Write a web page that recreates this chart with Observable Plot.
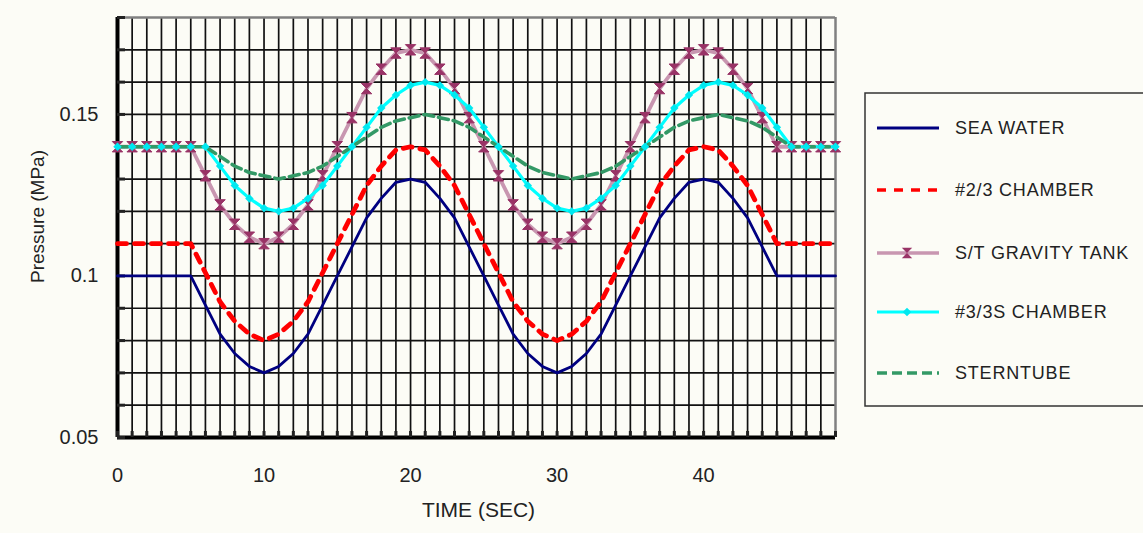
<!DOCTYPE html>
<html>
<head>
<meta charset="utf-8">
<script src="https://cdn.jsdelivr.net/npm/d3@7"></script>
<script src="https://cdn.jsdelivr.net/npm/@observablehq/plot@0.6"></script>
<style>
  html, body { margin: 0; padding: 0; background: #fcfcf6; }
  #wrap { position: relative; width: 1143px; height: 533px; overflow: hidden; }
</style>
</head>
<body>
<div id="wrap"></div>
<script>
// ---- data ----
const time = [0,1,2,3,4,5,6,7,8,9,10,11,12,13,14,15,16,17,18,19,20,21,22,23,24,25,26,27,28,29,30,31,32,33,34,35,36,37,38,39,40,41,42,43,44,45,46,47,48,49];

const seaWater = [0.1,0.1,0.1,0.1,0.1,0.1,
  0.091,0.082,0.076,0.072,0.07,0.072,0.076,0.082,0.091,
  0.1,0.109,0.118,0.124,0.129,0.13,0.129,0.124,0.118,0.109,
  0.1,0.091,0.082,0.076,0.072,0.07,0.072,0.076,0.082,0.091,
  0.1,0.109,0.118,0.124,0.129,0.13,0.129,0.124,0.118,0.109,
  0.1,0.1,0.1,0.1,0.1];

const chamber23 = [0.11,0.11,0.11,0.11,0.11,0.11,
  0.101,0.092,0.086,0.082,0.08,0.082,0.086,0.092,0.101,
  0.11,0.119,0.128,0.134,0.139,0.14,0.139,0.134,0.128,0.119,
  0.11,0.101,0.092,0.086,0.082,0.08,0.082,0.086,0.092,0.101,
  0.11,0.119,0.128,0.134,0.139,0.14,0.139,0.134,0.128,0.119,
  0.11,0.11,0.11,0.11,0.11];

const gravityTank = [0.14,0.14,0.14,0.14,0.14,0.14,
  0.131,0.122,0.116,0.112,0.11,0.112,0.116,0.122,0.131,
  0.14,0.149,0.158,0.164,0.169,0.17,0.169,0.164,0.158,0.149,
  0.14,0.131,0.122,0.116,0.112,0.11,0.112,0.116,0.122,0.131,
  0.14,0.149,0.158,0.164,0.169,0.17,0.169,0.164,0.158,0.149,
  0.14,0.14,0.14,0.14,0.14];

const chamber3S = [0.14,0.14,0.14,0.14,0.14,0.14,0.14,
  0.134,0.128,0.124,0.121,0.12,0.121,0.124,0.128,0.134,
  0.14,0.146,0.152,0.156,0.159,0.16,0.159,0.156,0.152,0.146,
  0.14,0.134,0.128,0.124,0.121,0.12,0.121,0.124,0.128,0.134,
  0.14,0.146,0.152,0.156,0.159,0.16,0.159,0.156,0.152,0.146,
  0.14,0.14,0.14,0.14];

const sterntube = [0.14,0.14,0.14,0.14,0.14,0.14,0.14,
  0.137,0.134,0.132,0.131,0.13,0.131,0.132,0.134,0.137,
  0.14,0.143,0.146,0.148,0.149,0.15,0.149,0.148,0.146,0.143,
  0.14,0.137,0.134,0.132,0.131,0.13,0.131,0.132,0.134,0.137,
  0.14,0.143,0.146,0.148,0.149,0.15,0.149,0.148,0.146,0.143,
  0.14,0.14,0.14,0.14];

const seriesNames = ["SEA WATER", "#2/3 CHAMBER", "S/T GRAVITY TANK", "#3/3S CHAMBER", "STERNTUBE"];

const xTickLabels = [0, 10, 20, 30, 40];
const yTickLabels = [0.05, 0.1, 0.15];
const xMinorTicks = [0,1,2,3,4,5,6,7,8,9,10,11,12,13,14,15,16,17,18,19,20,21,22,23,24,25,26,27,28,29,30,31,32,33,34,35,36,37,38,39,40,41,42,43,44,45,46,47,48,49];
const yMinorTicks = [0.05,0.06,0.07,0.08,0.09,0.1,0.11,0.12,0.13,0.14,0.15,0.16,0.17,0.18];
const xTitle = "TIME (SEC)";
const yTitle = "Pressure (MPa)";

// ---- styles ----
const hourglass = {
  draw(ctx, size) {
    const s = Math.sqrt(size / Math.PI);
    ctx.moveTo(-s, -s);
    ctx.lineTo(s, -s);
    ctx.lineTo(-s, s);
    ctx.lineTo(s, s);
    ctx.closePath();
  }
};

const styles = {
  "SEA WATER":        {stroke: "#000080", strokeWidth: 2.8},
  "#2/3 CHAMBER":     {stroke: "#ff0000", strokeWidth: 4.8, strokeDasharray: "9,8"},
  "S/T GRAVITY TANK": {stroke: "#c896b0", strokeWidth: 3.8, marker: {symbol: hourglass, r: 5.2, fill: "#993366", stroke: "#993366"}},
  "#3/3S CHAMBER":    {stroke: "#00ffff", strokeWidth: 3.2, marker: {symbol: "diamond2", r: 3.8, fill: "#00e8f0", stroke: "none"}},
  "STERNTUBE":        {stroke: "#339966", strokeWidth: 3.6, strokeDasharray: "10,5"}
};

const valuesBySeries = [seaWater, chamber23, gravityTank, chamber3S, sterntube];
const rowsOf = (vals) => time.map((t, i) => ({t, v: vals[i]}));
const rows = Object.fromEntries(seriesNames.map((n, i) => [n, rowsOf(valuesBySeries[i])]));

const lineMark = (name) => {
  const s = styles[name];
  return Plot.line(rows[name], {x: "t", y: "v", stroke: s.stroke, strokeWidth: s.strokeWidth,
    strokeDasharray: s.strokeDasharray, strokeLinejoin: "round", curve: "linear"});
};
const dotMark = (name) => {
  const m = styles[name].marker;
  return Plot.dot(rows[name], {x: "t", y: "v", symbol: m.symbol, r: m.r, fill: m.fill, stroke: m.stroke, strokeWidth: 1});
};

const chart = Plot.plot({
  width: 1143,
  height: 533,
  marginLeft: 117,
  marginRight: 308,
  marginTop: 17,
  marginBottom: 96,
  x: {domain: [0, 49]},
  y: {domain: [0.05, 0.18]},
  style: {fontFamily: "'Liberation Sans', Arial, sans-serif", fontSize: "20px", color: "#222", background: "transparent", overflow: "visible"},
  marks: [
    Plot.gridX(xMinorTicks.slice(1, -1), {stroke: "#111", strokeOpacity: 1, strokeWidth: 1.7}),
    Plot.gridY(yMinorTicks.slice(1, -1), {stroke: "#111", strokeOpacity: 1, strokeWidth: 1.7}),
    Plot.ruleX([xMinorTicks[xMinorTicks.length - 1]], {stroke: "#808080", strokeWidth: 2.5}),
    Plot.ruleY([yMinorTicks[yMinorTicks.length - 1]], {stroke: "#808080", strokeWidth: 2.5}),
    Plot.ruleX([0], {stroke: "#000", strokeWidth: 4}),
    Plot.ruleY([0.05], {stroke: "#000", strokeWidth: 4}),
    Plot.axisY(yMinorTicks, {anchor: "left", tickSize: 8, dx: 8, strokeWidth: 3, tickFormat: () => "", label: null}),
    Plot.axisX(xMinorTicks, {anchor: "bottom", tickSize: 6, dy: -6, strokeWidth: 3, tickFormat: () => "", label: null}),
    Plot.axisY(yTickLabels, {anchor: "left", tickSize: 0, tickPadding: 19, label: null, fontSize: 20, tickFormat: d => String(d)}),
    Plot.axisX(xTickLabels, {anchor: "bottom", tickSize: 0, tickPadding: 30, label: null, fontSize: 20, tickFormat: d => String(d)}),
    Plot.text([xTitle], {text: d => d, frameAnchor: "bottom", dy: 79, dx: 2, fontSize: 21}),
    Plot.text([yTitle], {text: d => d, frameAnchor: "left", textAnchor: "middle", rotate: -90, dx: -80, dy: -11, fontSize: 19}),
    lineMark("SEA WATER"),
    lineMark("#2/3 CHAMBER"),
    lineMark("S/T GRAVITY TANK"),
    dotMark("S/T GRAVITY TANK"),
    lineMark("#3/3S CHAMBER"),
    lineMark("STERNTUBE"),
    dotMark("#3/3S CHAMBER")
  ]
});

const wrap = document.getElementById("wrap");
chart.style.position = "absolute";
chart.style.left = "0px";
chart.style.top = "0px";
wrap.appendChild(chart);

// ---- legend ----
const lg = d3.create("svg")
  .attr("width", 279).attr("height", 316)
  .style("position", "absolute").style("left", "864px").style("top", "92px")
  .style("font-family", "'Liberation Sans', Arial, sans-serif");
lg.append("rect").attr("x", 1).attr("y", 1).attr("width", 290).attr("height", 313)
  .attr("fill", "none").attr("stroke", "#333").attr("stroke-width", 1.5);
const rowY = [36, 98, 161, 220, 281];
seriesNames.forEach((name, i) => {
  const s = styles[name];
  const g = lg.append("g").attr("transform", `translate(0,${rowY[i]})`);
  g.append("line").attr("x1", 13).attr("x2", 75).attr("y1", 0).attr("y2", 0)
    .attr("stroke", s.stroke).attr("stroke-width", Math.min(s.strokeWidth, 3.5))
    .attr("stroke-dasharray", s.strokeDasharray || null);
  if (s.marker) {
    const sym = s.marker.symbol === "diamond2" ? d3.symbolDiamond2 : s.marker.symbol;
    g.append("path").attr("transform", "translate(43,0)")
      .attr("d", d3.symbol(sym, Math.PI * s.marker.r * s.marker.r)())
      .attr("fill", s.marker.fill);
  }
  g.append("text").attr("x", 91).attr("y", 0).attr("dy", "0.35em")
    .attr("font-size", 18).attr("letter-spacing", "0.8px").attr("fill", "#222").text(name);
});
wrap.appendChild(lg.node());
</script>
</body>
</html>
